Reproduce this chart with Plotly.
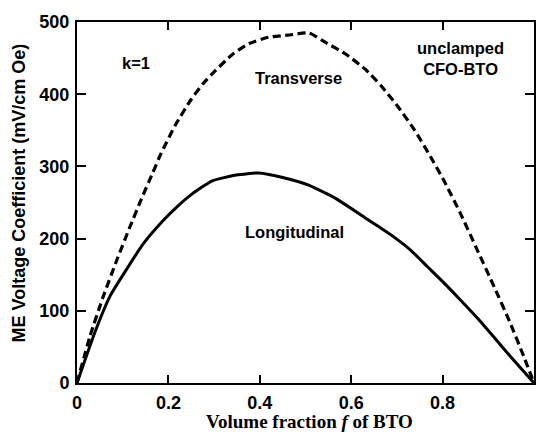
import plotly.graph_objects as go

# Transverse (dashed) curve
f_trans = [0, 0.028, 0.057, 0.087, 0.115, 0.141, 0.165, 0.184, 0.215, 0.25, 0.275, 0.30, 0.34, 0.376, 0.42, 0.465, 0.507,
           0.543, 0.587, 0.63, 0.665, 0.702, 0.739, 0.774, 0.804, 0.839, 0.876, 0.913, 0.948, 0.978, 1.0]
v_trans = [0, 64, 119, 170, 215, 255, 290, 318, 357, 393, 414, 431, 455, 470, 479, 482, 485,
           472, 456, 435, 412, 383, 350, 313, 279, 235, 184, 133, 83, 36, 0]

# Longitudinal (solid) curve
f_long = [0, 0.039, 0.072, 0.108, 0.144, 0.187, 0.217, 0.252, 0.296, 0.348, 0.398, 0.448, 0.507, 0.565,
          0.63, 0.659, 0.696, 0.73, 0.767, 0.804, 0.839, 0.876, 0.913, 0.948, 1.0]
v_long = [0, 70, 120, 157, 192, 224, 243, 262, 280, 288, 291, 285, 274, 256,
          229, 217, 201, 184, 161, 138, 115, 90, 63, 37, 0]

x_ticks = [0, 0.2, 0.4, 0.6, 0.8, 1]
x_ticktext = ["0", "0.2", "0.4", "0.6", "0.8", "1"]
y_ticks = [0, 100, 200, 300, 400, 500]

fig = go.Figure()
fig.add_trace(go.Scatter(x=f_trans, y=v_trans, mode="lines",
                         line=dict(color="black", width=3.2, dash="8px,4.5px", shape="spline", smoothing=0.5),
                         showlegend=False))
fig.add_trace(go.Scatter(x=f_long, y=v_long, mode="lines",
                         line=dict(color="black", width=3, shape="spline", smoothing=0.5),
                         showlegend=False))

tickfont = dict(family="Liberation Sans, Arial", size=18, color="black")
fig.update_layout(
    width=536, height=434,
    margin=dict(l=77, r=0, t=22, b=51),
    paper_bgcolor="white", plot_bgcolor="white",
    font=dict(family="Liberation Sans, Arial", color="black"),
    xaxis=dict(range=[0, 1], tickvals=x_ticks, ticktext=["<b>%s</b>" % t for t in x_ticktext],
               ticks="inside", ticklen=8, tickwidth=1.5, tickcolor="black", showline=True, linecolor="black", linewidth=2,
               mirror="ticks", showgrid=False, zeroline=False, tickfont=tickfont, ticklabelstandoff=2),
    yaxis=dict(range=[0, 500], tickvals=y_ticks, ticktext=["<b>%d</b>" % v for v in y_ticks],
               ticks="inside", ticklen=9, tickwidth=1.5, tickcolor="black", showline=True, linecolor="black", linewidth=2,
               mirror="ticks", showgrid=False, zeroline=False, tickfont=tickfont, ticklabelstandoff=2),
)

# axis titles as annotations
fig.add_annotation(xref="paper", yref="paper", x=-0.126, y=0.526, xanchor="center", yanchor="middle",
                   text="<b>ME Voltage Coefficient (mV/cm Oe)</b>",
                   textangle=-90, showarrow=False, font=dict(family="Liberation Sans, Arial", size=18))
fig.add_annotation(xref="paper", yref="paper", x=0.508, y=-0.108, xanchor="center", yanchor="middle",
                   text="<b>Volume fraction <i>f</i> of BTO</b>", showarrow=False,
                   font=dict(family="Liberation Serif, Times New Roman", size=19))

ann_font = dict(family="Liberation Sans, Arial", size=16.5, color="black")
fig.add_annotation(x=0.13, y=443, text="<b>k=1</b>", showarrow=False, font=ann_font)
fig.add_annotation(x=0.485, y=422, text="<b>Transverse</b>", showarrow=False, font=ann_font)
fig.add_annotation(x=0.84, y=450, text="<b>unclamped<br>CFO-BTO</b>", showarrow=False, font=ann_font)
fig.add_annotation(x=0.476, y=209, text="<b>Longitudinal</b>", showarrow=False, font=ann_font)

fig.write_html("out.html")
